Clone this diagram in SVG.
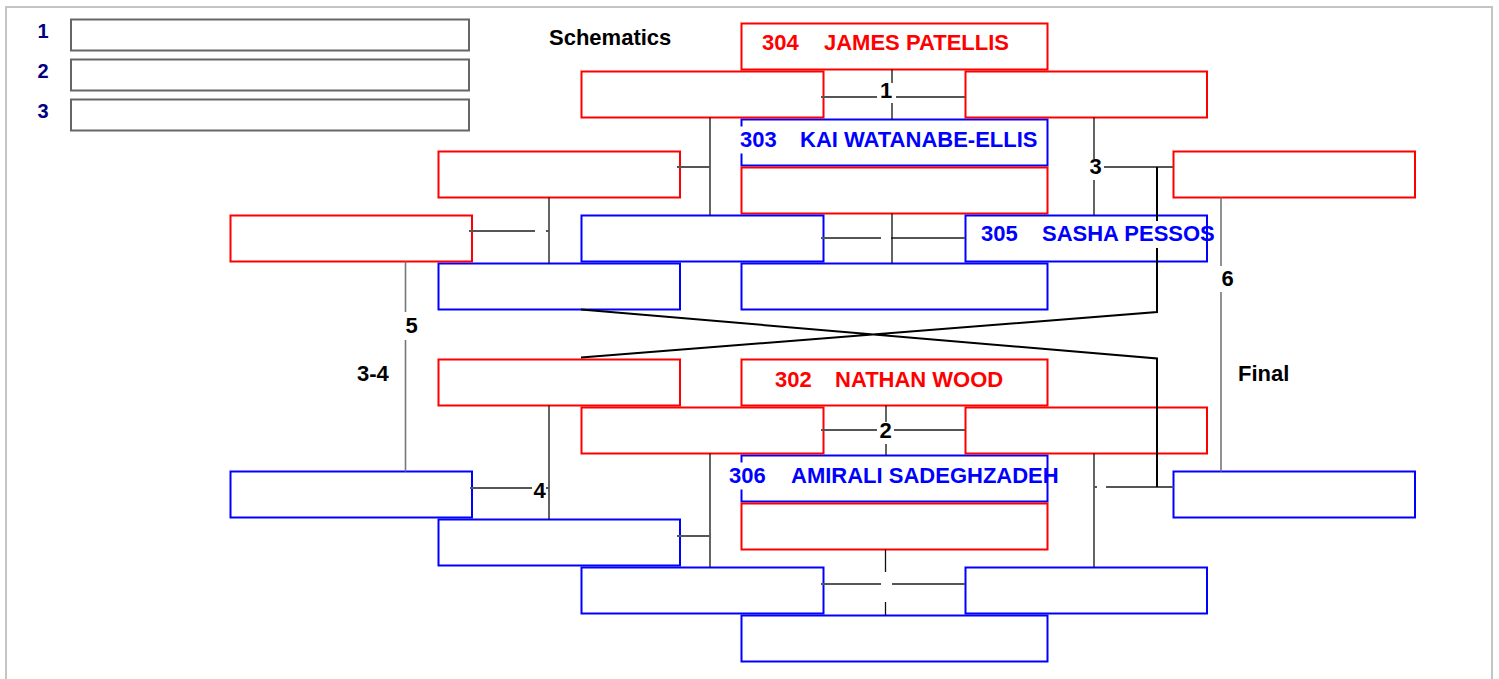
<svg xmlns="http://www.w3.org/2000/svg" width="1499" height="679" viewBox="0 0 1499 679">
<style>
.r{fill:#fff;stroke:#ff0000;stroke-width:2}
.bl{fill:#fff;stroke:#0000ff;stroke-width:2}
.lg{fill:#fff;stroke:#666;stroke-width:2}
.t{font-family:"Liberation Sans",Arial,sans-serif;font-weight:bold;font-size:22px}
.tr{fill:#ff0000}
.tb{fill:#0000ff}
.tk{fill:#000}
.m{text-anchor:middle}
.tn{font-family:"Liberation Sans",Arial,sans-serif;font-weight:bold;font-size:20px;fill:#000080;text-anchor:middle}
.v{stroke:#111;stroke-width:1.3;fill:none}
.h{stroke:#555;stroke-width:2;fill:none}
.k{stroke:#000;stroke-width:2;fill:none}
.g{stroke:#777;stroke-width:1.6;fill:none}
.bg{fill:#fff}
</style>
<rect x="6" y="7" width="1486" height="700" fill="none" stroke="#c4c4c4" stroke-width="2"/>
<g id="legend">
<text class="tn" x="43" y="37.5">1</text>
<text class="tn" x="43" y="77.5">2</text>
<text class="tn" x="43" y="117.5">3</text>
<rect class="lg" x="71" y="19.5" width="398" height="31"/>
<rect class="lg" x="71" y="59.5" width="398" height="31"/>
<rect class="lg" x="71" y="99.5" width="398" height="31"/>
</g>
<g id="titles">
<text class="t tk" x="549" y="45">Schematics</text>
<text class="t tk" x="1238" y="381">Final</text>
<text class="t tk" x="357" y="381">3-4</text>
</g>
<g id="boxes">
<g id="a1"><rect class="r" x="741.5" y="23.5" width="306" height="46"/></g>
<g id="a2"><rect class="bl" x="741.5" y="119.5" width="306" height="46"/></g>
<g id="a3"><rect class="r" x="741.5" y="167.5" width="306" height="46"/></g>
<g id="a4"><rect class="bl" x="741.5" y="263.5" width="306" height="46"/></g>
<g id="a5"><rect class="r" x="741.5" y="359.5" width="306" height="46"/></g>
<g id="a6"><rect class="bl" x="741.5" y="455.5" width="306" height="46"/></g>
<g id="a7"><rect class="r" x="741.5" y="503.5" width="306" height="46"/></g>
<g id="a8"><rect class="bl" x="741.5" y="615.5" width="306" height="46"/></g>
<g id="b1"><rect class="r" x="581.5" y="71.5" width="242" height="46"/></g>
<g id="b2"><rect class="bl" x="581.5" y="215.5" width="242" height="46"/></g>
<g id="b3"><rect class="r" x="581.5" y="407.5" width="242" height="46"/></g>
<g id="b4"><rect class="bl" x="581.5" y="567.5" width="242" height="46"/></g>
<g id="c1"><rect class="r" x="965.5" y="71.5" width="241.5" height="46"/></g>
<g id="c2"><rect class="bl" x="965.5" y="215.5" width="241.5" height="46"/></g>
<g id="c3"><rect class="r" x="965.5" y="407.5" width="241.5" height="46"/></g>
<g id="c4"><rect class="bl" x="965.5" y="567.5" width="241.5" height="46"/></g>
<g id="d1"><rect class="r" x="438.5" y="151.5" width="241.5" height="46"/></g>
<g id="d2"><rect class="bl" x="438.5" y="263.5" width="241.5" height="46"/></g>
<g id="d3"><rect class="r" x="438.5" y="359.5" width="241.5" height="46"/></g>
<g id="d4"><rect class="bl" x="438.5" y="519.5" width="241.5" height="46"/></g>
<g id="e1"><rect class="r" x="230.5" y="215.5" width="241.5" height="46"/></g>
<g id="e2"><rect class="bl" x="230.5" y="471.5" width="241.5" height="46"/></g>
<g id="f1"><rect class="r" x="1173.5" y="151.5" width="241.5" height="46"/></g>
<g id="f2"><rect class="bl" x="1173.5" y="471.5" width="241.5" height="46"/></g>
</g>
<g id="connectors">
<path class="h" d="M821 97H965M821 238H965M821 430H965M821 584H965"/>
<path class="v" d="M892 69.5V119.5M892 213.5V263.5M886 405.5V455.5M885.5 549.5V615.5"/>
<path class="v" d="M710 117.5V215.5M710 453.5V567.5M1094 117.5V215.5M1094 453.5V567.5M549 197.5V263.5M549 405.5V519.5"/>
<path class="h" d="M677 167H710M677 536H710M1094 167H1173.5M1094 487H1173.5M469 231H549M470 488H549"/>
<path class="g" d="M405.5 261.5V471.5M1221 197.5V471.5"/>
<path class="k" d="M1157 167V312L581 357.5M581 309.5L1157 358.5V487"/>
</g>
<g id="labels">
<rect class="bg" x="877" y="83" width="19" height="20"/>
<rect class="bg" x="881" y="224" width="10" height="28"/>
<rect class="bg" x="877" y="422" width="17" height="22"/>
<rect class="bg" x="881" y="572" width="11" height="30"/>
<rect class="bg" x="1088" y="159" width="16" height="21"/>
<rect class="bg" x="1097" y="475" width="9" height="25"/>
<rect class="bg" x="535" y="217" width="11" height="28"/>
<rect class="bg" x="532" y="476" width="14" height="26"/>
<rect class="bg" x="401" y="312" width="20" height="28"/>
<rect class="bg" x="1216" y="266" width="23" height="26"/>
<text class="t tk m" x="886" y="98">1</text>
<text class="t tk m" x="885.5" y="438">2</text>
<text class="t tk m" x="1095.5" y="173.5">3</text>
<text class="t tk m" x="539.5" y="498">4</text>
<text class="t tk m" x="411.5" y="333">5</text>
<text class="t tk m" x="1227.5" y="285.5">6</text>
</g>
<g id="names">
<rect class="bg" x="761" y="29.5" width="253" height="27"/>
<text class="t tr" x="762" y="49.5">304<tspan x="824">JAMES PATELLIS</tspan></text>
<rect class="bg" x="739" y="126.5" width="305" height="27"/>
<text class="t tb" x="740" y="146.5">303<tspan x="800">KAI WATANABE-ELLIS</tspan></text>
<rect class="bg" x="980" y="221" width="225" height="27"/>
<text class="t tb" x="981" y="241">305<tspan x="1042">SASHA PESSOS</tspan></text>
<rect class="bg" x="774" y="366.5" width="233" height="27"/>
<text class="t tr" x="775" y="386.5">302<tspan x="835">NATHAN WOOD</tspan></text>
<rect class="bg" x="728" y="462.5" width="318" height="27"/>
<text class="t tb" x="729" y="482.5">306<tspan x="791">AMIRALI SADEGHZADEH</tspan></text>
</g>
</svg>
